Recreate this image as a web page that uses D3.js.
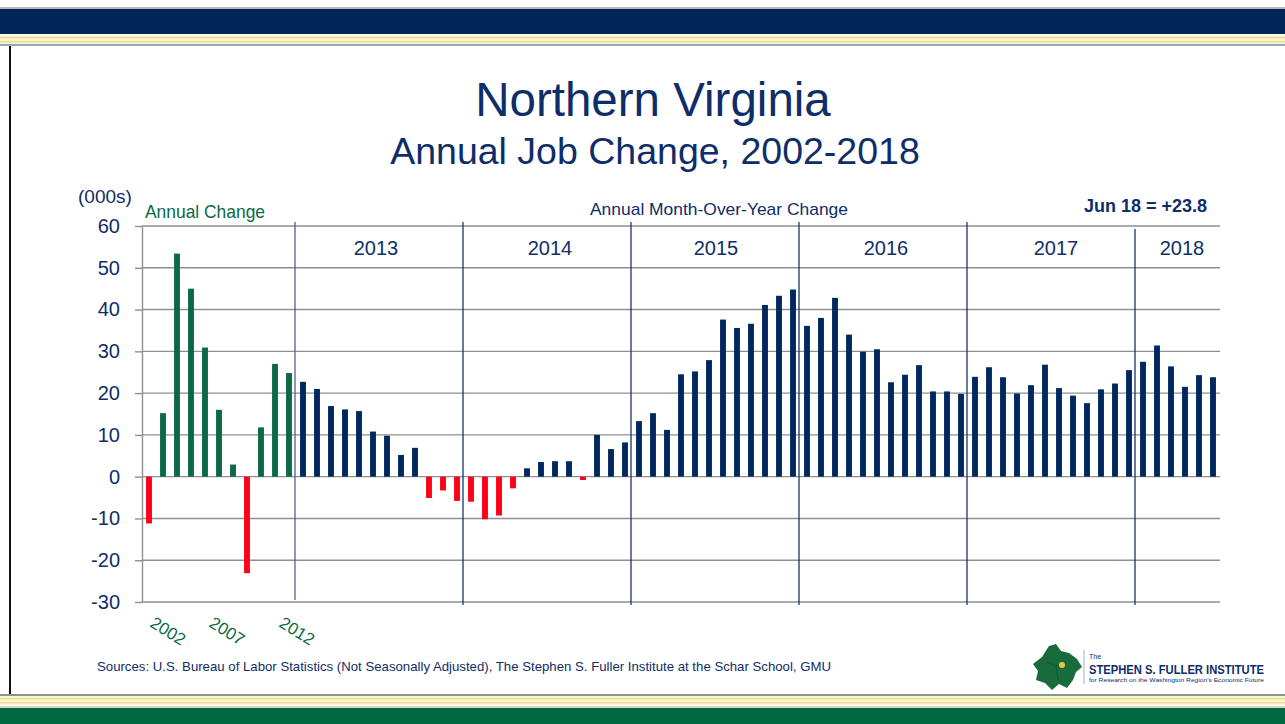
<!DOCTYPE html>
<html>
<head>
<meta charset="utf-8">
<script src="https://cdn.jsdelivr.net/npm/d3@7"></script>
<style>
    body { margin: 0; background: #fff; }
    svg { display: block; font-family: "Liberation Sans", Arial, sans-serif; }
</style>
</head>
<body>
<svg id="chart" width="1285" height="724"></svg>
<script>
// annual change 2002-2012 (000s)
const annual_years = [2002, 2003, 2004, 2005, 2006, 2007, 2008, 2009, 2010, 2011, 2012];
const annual_values = [-11.2, 15.2, 53.4, 45.0, 30.9, 16.0, 2.9, -23.1, 11.8, 27.0, 24.8];

// month-over-year change, Jan 2013 - Jun 2018 (000s)
const month_years = [2013, 2014, 2015, 2016, 2017, 2018];
const values_2013 = [22.7, 21.0, 16.9, 16.1, 15.7, 10.8, 9.8, 5.2, 6.9, -5.1, -3.3, -5.8];
const values_2014 = [-6.0, -10.2, -9.3, -2.8, 2.0, 3.5, 3.7, 3.7, -0.8, 10.0, 6.6, 8.2];
const values_2015 = [13.3, 15.2, 11.2, 24.5, 25.2, 27.9, 37.6, 35.6, 36.6, 41.1, 43.3, 44.8];
const values_2016 = [36.1, 38.0, 42.8, 34.0, 29.9, 30.5, 22.6, 24.4, 26.7, 20.4, 20.4, 19.8];
const values_2017 = [23.9, 26.2, 23.8, 19.9, 21.9, 26.8, 21.2, 19.4, 17.6, 20.9, 22.3, 25.5];
const values_2018 = [27.5, 31.4, 26.4, 21.5, 24.3, 23.8];

const x_labels = ["2002", "2007", "2012"];
const y_ticks = [-30, -20, -10, 0, 10, 20, 30, 40, 50, 60];

const navy = "#0f2d69";
const green = "#0b6a45";
const bar_navy = "#00285e";
const bar_red = "#ff0019";
const grid_grey = "#8f8f8f";

const svg = d3.select("#chart");

// *************************************************
// Slide frame
// *************************************************
svg.append("rect").attr("x", 0).attr("y", 7).attr("width", 1285).attr("height", 2).attr("fill", "#b9b9b9");
svg.append("rect").attr("x", 0).attr("y", 9).attr("width", 1285).attr("height", 25).attr("fill", "#002659");
svg.append("rect").attr("x", 0).attr("y", 35).attr("width", 1285).attr("height", 9).attr("fill", "#fbf5cf");
svg.append("rect").attr("x", 0).attr("y", 37).attr("width", 1285).attr("height", 1.5).attr("fill", "#eadc95");
svg.append("rect").attr("x", 0).attr("y", 41).attr("width", 1285).attr("height", 1.5).attr("fill", "#eadc95");
svg.append("rect").attr("x", 0).attr("y", 44).attr("width", 1285).attr("height", 2).attr("fill", "#9aa6b2");
svg.append("rect").attr("x", 9).attr("y", 46).attr("width", 2).attr("height", 648).attr("fill", "#111");

svg.append("rect").attr("x", 0).attr("y", 694).attr("width", 1285).attr("height", 2).attr("fill", "#7e9a8d");
svg.append("rect").attr("x", 0).attr("y", 696).attr("width", 1285).attr("height", 9).attr("fill", "#fbf5cf");
svg.append("rect").attr("x", 0).attr("y", 698).attr("width", 1285).attr("height", 1.5).attr("fill", "#eadc95");
svg.append("rect").attr("x", 0).attr("y", 702).attr("width", 1285).attr("height", 1.5).attr("fill", "#eadc95");
svg.append("rect").attr("x", 0).attr("y", 706).attr("width", 1285).attr("height", 2).attr("fill", "#c9d6cc");
svg.append("rect").attr("x", 0).attr("y", 708).attr("width", 1285).attr("height", 16).attr("fill", "#016841");

// *************************************************
// Titles
// *************************************************
svg.append("text")
    .attr("x", 653).attr("y", 116)
    .attr("text-anchor", "middle")
    .attr("fill", navy)
    .attr("font-size", "47.5px")
    .text("Northern Virginia");

svg.append("text")
    .attr("x", 655).attr("y", 164)
    .attr("text-anchor", "middle")
    .attr("fill", navy)
    .attr("font-size", "37.5px")
    .text("Annual Job Change, 2002-2018");

// *************************************************
// Scales
// *************************************************
const month_values = [values_2013, values_2014, values_2015, values_2016, values_2017, values_2018];
let bar_data = annual_values.map((v, i) => ({ value: v, kind: "annual", label: annual_years[i] }));
month_values.forEach((arr, k) => {
    arr.forEach((v, m) => bar_data.push({ value: v, kind: "month", label: month_years[k] + "-" + (m + 1) }));
});
bar_data.forEach((d, i) => d.index = i);

const plot_left = 142, plot_right = 1220;
const x = d3.scaleBand()
    .domain(bar_data.map(d => d.index))
    .range([plot_left, plot_right])
    .paddingInner(0.58)
    .paddingOuter(0.29);

const y = d3.scaleLinear().domain([-30, 60]).range([602, 226]);

const boundary = i => x(i) - x.step() * x.paddingInner() / 2;

// gridlines
svg.append("g")
    .selectAll("line")
    .data(y_ticks)
    .join("line")
    .attr("x1", plot_left).attr("x2", plot_right)
    .attr("y1", d => y(d)).attr("y2", d => y(d))
    .attr("stroke", grid_grey)
    .attr("stroke-width", 1.4);

// y axis (plain hyphen for negatives, like the original)
const y_axis = svg.append("g")
    .attr("transform", "translate(" + plot_left + ",0)")
    .call(d3.axisLeft(y).tickValues(y_ticks).tickFormat(d => String(d))
        .tickSize(7).tickSizeOuter(0).tickPadding(15));
y_axis.selectAll("path, line").attr("stroke", grid_grey).attr("stroke-width", 1.4);
y_axis.selectAll("text")
    .attr("fill", navy)
    .attr("font-size", "20px")
    .attr("font-family", "'Liberation Sans', Arial, sans-serif");

// year separators
const sep_index = month_years.map((yr, k) => annual_values.length + k * 12);
svg.append("g")
    .selectAll("line")
    .data(sep_index)
    .join("line")
    .attr("x1", d => boundary(d) - 1).attr("x2", d => boundary(d) - 1)
    .attr("y1", (d, k) => k === sep_index.length - 1 ? 229 : 222)
    .attr("y2", (d, k) => k === 0 ? 600 : 605)
    .attr("stroke", (d, k) => k === 0 ? "#4a6790" : "#18346e")
    .attr("stroke-width", 1.3);

// year labels, centred in each segment
svg.append("g")
    .selectAll("text")
    .data(month_years)
    .join("text")
    .attr("x", (d, k) => {
        let a = boundary(sep_index[k]);
        let b = k < sep_index.length - 1 ? boundary(sep_index[k + 1]) : plot_right;
        let nudge = [-4, 2, 0, 2, 4, 4][k];
        return (a + b) / 2 + nudge;
    })
    .attr("y", 255)
    .attr("text-anchor", "middle")
    .attr("fill", navy)
    .attr("font-size", "20px")
    .text(d => d);

// bars
svg.append("g")
    .selectAll("rect")
    .data(bar_data)
    .join("rect")
    .attr("x", d => x(d.index))
    .attr("width", x.bandwidth())
    .attr("y", d => y(Math.max(0, d.value)))
    .attr("height", d => Math.abs(y(d.value) - y(0)))
    .attr("fill", d => d.value < 0 ? bar_red : (d.kind === "annual" ? green : bar_navy));

// rotated annual labels
svg.append("g")
    .selectAll("text")
    .data(x_labels)
    .join("text")
    .attr("transform", d => {
        let i = annual_years.indexOf(+d);
        let shift = i === 0 ? 0 : -11;
        return "translate(" + (x(i) + x.bandwidth() / 2 + shift) + ",626) rotate(32)";
    })
    .attr("fill", green)
    .attr("font-size", "17px")
    .text(d => d);

// *************************************************
// Annotations
// *************************************************
svg.append("text")
    .attr("x", 78).attr("y", 203)
    .attr("fill", navy)
    .attr("font-size", "19px")
    .text("(000s)");

svg.append("text")
    .attr("x", 145).attr("y", 218)
    .attr("fill", green)
    .attr("font-size", "19px")
    .attr("textLength", 120)
    .attr("lengthAdjust", "spacingAndGlyphs")
    .text("Annual Change");

svg.append("text")
    .attr("x", 590).attr("y", 215)
    .attr("fill", navy)
    .attr("font-size", "17px")
    .attr("textLength", 258)
    .attr("lengthAdjust", "spacingAndGlyphs")
    .text("Annual Month-Over-Year Change");

const last_value = values_2018[values_2018.length - 1];
svg.append("text")
    .attr("x", 1207).attr("y", 212)
    .attr("text-anchor", "end")
    .attr("fill", navy)
    .attr("font-size", "18px")
    .attr("font-weight", "bold")
    .text("Jun 18 = " + (last_value >= 0 ? "+" : "") + last_value.toFixed(1));

svg.append("text")
    .attr("x", 97).attr("y", 671)
    .attr("fill", navy)
    .attr("font-size", "13px")
    .attr("textLength", 734)
    .attr("lengthAdjust", "spacingAndGlyphs")
    .text("Sources: U.S. Bureau of Labor Statistics (Not Seasonally Adjusted), The Stephen S. Fuller Institute at the Schar School, GMU");

// *************************************************
// Logo
// *************************************************
const logo = svg.append("g");
logo.append("polygon")
    .attr("points", "1049,646 1056,644 1061,651 1069,653 1077,659 1082,667 1076,672 1073,680 1067,688 1059,684 1052,690 1045,683 1036,680 1038,671 1033,664 1042,657")
    .attr("fill", "#1a6b3c");
logo.append("path")
    .attr("d", "M1047,662 L1056,666 L1066,663 M1056,666 L1058,680")
    .attr("stroke", "#0e4d28").attr("stroke-width", 0.8).attr("fill", "none");
logo.append("circle").attr("cx", 1062).attr("cy", 665).attr("r", 3).attr("fill", "#e8c547");
logo.append("line")
    .attr("x1", 1084).attr("x2", 1084).attr("y1", 650).attr("y2", 684)
    .attr("stroke", "#b0b0b0").attr("stroke-width", 1);
logo.append("text")
    .attr("x", 1089).attr("y", 659)
    .attr("fill", navy).attr("font-size", "7px")
    .text("The");
logo.append("text")
    .attr("x", 1089).attr("y", 674)
    .attr("fill", navy).attr("font-size", "12.5px").attr("font-weight", "bold")
    .attr("textLength", 175).attr("lengthAdjust", "spacingAndGlyphs")
    .text("STEPHEN S. FULLER INSTITUTE");
logo.append("text")
    .attr("x", 1089).attr("y", 682)
    .attr("fill", navy).attr("font-size", "6px")
    .attr("textLength", 175).attr("lengthAdjust", "spacingAndGlyphs")
    .text("for Research on the Washington Region's Economic Future");
</script>
</body>
</html>
